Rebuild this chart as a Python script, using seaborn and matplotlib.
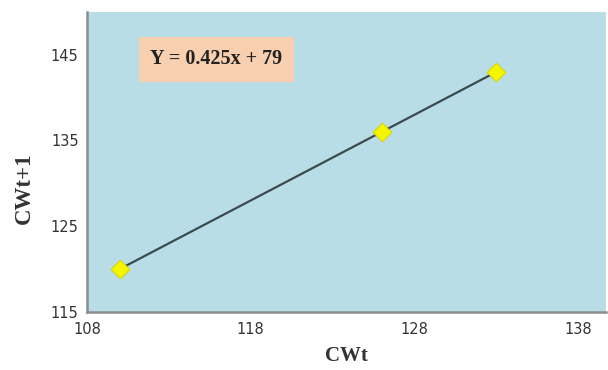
import matplotlib
matplotlib.use("Agg")
import matplotlib.pyplot as plt
from matplotlib.patches import Rectangle
import seaborn as sns
import pandas as pd

# Carapace width at time t and at t+1
cw_t = [110, 126, 133]
cw_t1 = [120, 136, 143]
x_ticks = [108, 118, 128, 138]
y_ticks = [115, 125, 135, 145]
equation = "Y = 0.425x + 79"

df = pd.DataFrame({"CWt": cw_t, "CWt+1": cw_t1})

sns.set_style("white")
plt.rcParams["font.family"] = ["Liberation Serif", "DejaVu Serif"]

fig = plt.figure(figsize=(6.08, 3.70), dpi=100)
ax = fig.add_axes([0.143, 0.157, 0.854, 0.811])
ax.set_facecolor("#b8dde7")

sns.lineplot(data=df, x="CWt", y="CWt+1", ax=ax, color="#3b4a4c", linewidth=1.6, zorder=2)
sns.scatterplot(data=df, x="CWt", y="CWt+1", ax=ax, marker="D", s=90,
                color="#f5f500", edgecolor="#d8d800", linewidth=0.8, zorder=3)

ax.set_xlim(108, 139.7)
ax.set_ylim(115, 150)
ax.set_xticks(x_ticks)
ax.set_yticks(y_ticks)
ax.tick_params(axis="both", length=0, labelcolor="#333333")
ax.tick_params(axis="x", pad=7)
ax.tick_params(axis="y", pad=6)
for lbl in ax.get_xticklabels() + ax.get_yticklabels():
    lbl.set_family("DejaVu Sans")
    lbl.set_fontsize(10.5)

for side in ("top", "right"):
    ax.spines[side].set_visible(False)
for side in ("left", "bottom"):
    ax.spines[side].set_color("#8c8c8c")
    ax.spines[side].set_linewidth(1.8)

ax.set_xlabel("CWt", fontsize=15, fontweight="bold", color="#333333", labelpad=7)
ax.set_ylabel("CWt+1", fontsize=16.5, fontweight="bold", color="#333333")
ax.yaxis.set_label_coords(-0.121, 0.413)
ax.yaxis.label.set_va("center")

# Regression equation in a shaded box
ax.add_patch(Rectangle((0.100, 0.767), 0.299, 0.150, transform=ax.transAxes,
                       facecolor="#f8d0b0", edgecolor="none", zorder=4))
ax.text(0.2495, 0.842, equation, transform=ax.transAxes, fontsize=14.5, fontweight="bold",
        color="#222222", va="center", ha="center", zorder=5)

fig.savefig("out.png", dpi=100)
